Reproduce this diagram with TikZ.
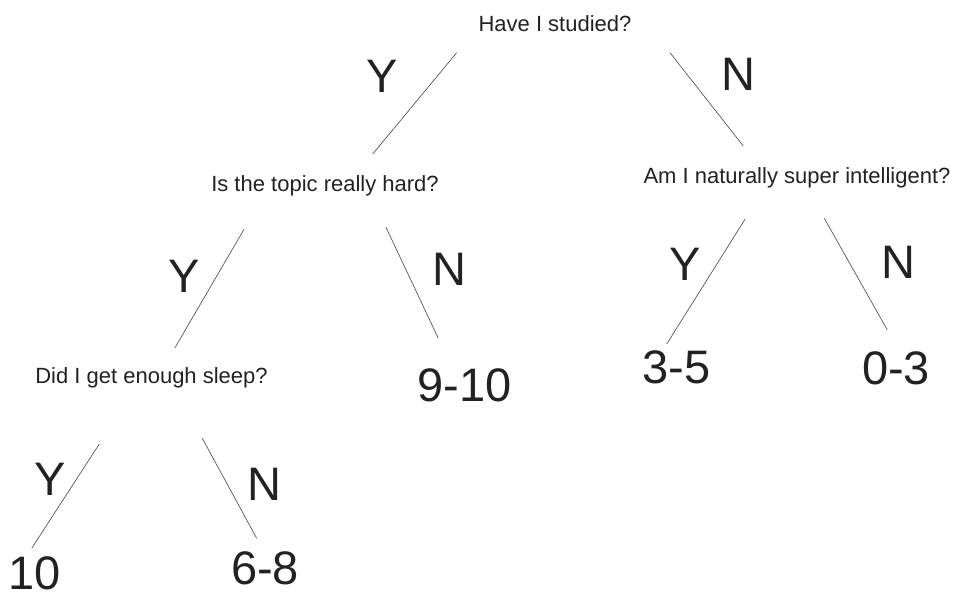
\documentclass[tikz,border=0pt]{standalone}
\usepackage{fontspec}
\setmainfont{Liberation Sans}
\definecolor{ink}{HTML}{222222}
\definecolor{linec}{HTML}{444444}
\begin{document}
\begin{tikzpicture}[x=1pt,y=-1pt,
  question/.style={anchor=base,inner sep=0pt,text=ink,font=\fontsize{22}{24}\selectfont},
  answer/.style={anchor=base,inner sep=0pt,text=ink,font=\fontsize{47}{52}\selectfont},
  branch/.style={anchor=base,inner sep=0pt,text=ink,font=\fontsize{47}{52}\selectfont},
  edge/.style={draw=linec,line width=0.6pt}]
\useasboundingbox (0,0) rectangle (955,592);
% questions
\node[question] (q1) at (555,31) {Have I studied?};
\node[question] (q2) at (325,191) {Is the topic really hard?};
\node[question] (q3) at (797,183) {Am I naturally super intelligent?};
\node[question] (q4) at (151.5,383) {Did I get enough sleep?};
% answers
\node[answer] (a1) at (464.5,401.5) {9-10};
\node[answer] (a2) at (676.5,383.5) {3-5};
\node[answer] (a3) at (896,384) {0-3};
\node[answer] (a4) at (34.5,589) {10};
\node[answer] (a5) at (265,584) {6-8};
% branch labels
\node[branch] (y1) at (382.5,92) {Y};
\node[branch] (n1) at (738,90) {N};
\node[branch] (y2) at (184,292) {Y};
\node[branch] (n2) at (449,285) {N};
\node[branch] (y3) at (685,280) {Y};
\node[branch] (n3) at (898,278) {N};
\node[branch] (y4) at (50,495) {Y};
\node[branch] (n4) at (264,500) {N};
% connector end points
\coordinate (e1a) at (456.7,52.7); \coordinate (e1b) at (372.7,154);
\coordinate (e2a) at (670,52.7);   \coordinate (e2b) at (743.3,146);
\coordinate (e3a) at (244,229.3);  \coordinate (e3b) at (175,347.7);
\coordinate (e4a) at (386,227.3);  \coordinate (e4b) at (438.3,338.3);
\coordinate (e5a) at (745,219.3);  \coordinate (e5b) at (666.7,344);
\coordinate (e6a) at (824.3,218.3);\coordinate (e6b) at (887.3,330);
\coordinate (e7a) at (99.3,444);   \coordinate (e7b) at (31.7,548.3);
\coordinate (e8a) at (202.3,438.3);\coordinate (e8b) at (256.7,538.3);
\draw[edge] (e1a) -- (e1b);
\draw[edge] (e2a) -- (e2b);
\draw[edge] (e3a) -- (e3b);
\draw[edge] (e4a) -- (e4b);
\draw[edge] (e5a) -- (e5b);
\draw[edge] (e6a) -- (e6b);
\draw[edge] (e7a) -- (e7b);
\draw[edge] (e8a) -- (e8b);
\end{tikzpicture}
\end{document}
